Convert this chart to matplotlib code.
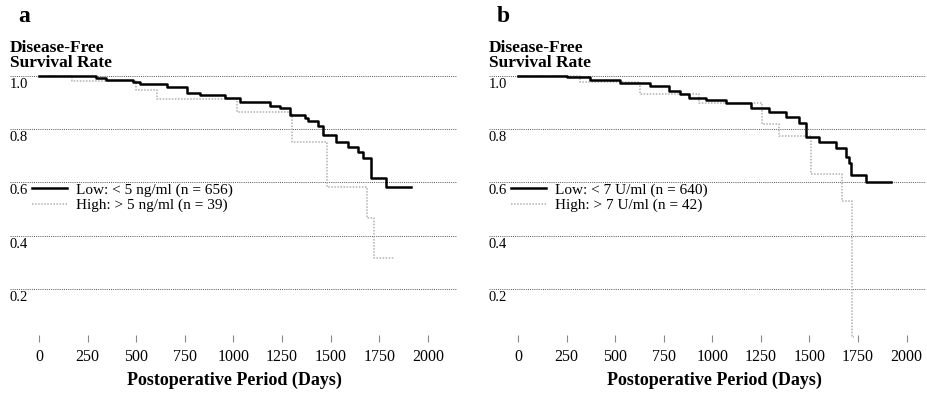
"""
Disease-free survival curves (Kaplan-Meier style) for two marker cut-offs.
"""
import matplotlib
matplotlib.use("Agg")
import matplotlib.pyplot as plt

plt.rcParams['font.family'] = ['Liberation Serif', 'DejaVu Serif']

# panel a: CEA-like marker, ng/ml
a_low_days = [0, 295, 346, 481, 517, 656, 760, 827, 956, 1034, 1189, 1240, 1292,
              1370, 1385, 1437, 1462, 1525, 1587, 1643, 1664, 1705, 1783, 1912]
a_low_surv = [1.0, 0.993, 0.982, 0.977, 0.969, 0.958, 0.936, 0.927, 0.915, 0.900, 0.886, 0.878, 0.852,
              0.841, 0.830, 0.810, 0.777, 0.752, 0.733, 0.715, 0.690, 0.615, 0.584, 0.584]
a_high_days = [0, 171, 500, 605, 1018, 1302, 1483, 1685, 1721, 1824]
a_high_surv = [1.0, 0.980, 0.948, 0.911, 0.865, 0.752, 0.584, 0.466, 0.316, 0.316]
a_labels = ['Low: < 5 ng/ml (n = 656)', 'High: > 5 ng/ml (n = 39)']

# panel b: CA19-9-like marker, U/ml
b_low_days = [0, 251, 369, 523, 677, 779, 831, 882, 969, 1072, 1200, 1292, 1379,
              1446, 1482, 1549, 1636, 1687, 1703, 1713, 1790, 1918]
b_low_surv = [1.0, 0.995, 0.983, 0.972, 0.961, 0.943, 0.931, 0.915, 0.909, 0.896, 0.880, 0.865, 0.846,
              0.821, 0.771, 0.752, 0.727, 0.696, 0.671, 0.627, 0.602, 0.602]
b_high_days = [0, 318, 626, 933, 1256, 1344, 1508, 1667, 1718, 1730]
b_high_surv = [1.0, 0.977, 0.930, 0.896, 0.820, 0.775, 0.630, 0.530, 0.020, 0.020]
b_labels = ['Low: < 7 U/ml (n = 640)', 'High: > 7 U/ml (n = 42)']

x_ticks = [0, 250, 500, 750, 1000, 1250, 1500, 1750, 2000]
y_grid = [0.0, 0.2, 0.4, 0.6, 0.8, 1.0]
y_labels = ['0.2', '0.4', '0.6', '0.8', '1.0']

W, H = 928, 394
fig = plt.figure(figsize=(W / 100, H / 100), dpi=100)


def draw_panel(left_px, right_px, xlim, low, high, labels, letter, xlab_px):
    bottom_px, top_px = 342.4, 62.3
    ax = fig.add_axes([left_px / W, 1 - bottom_px / H,
                       (right_px - left_px) / W, (bottom_px - top_px) / H])
    ax.set_xlim(*xlim)
    ax.set_ylim(0, 1.05)
    for s in ax.spines.values():
        s.set_visible(False)

    # dotted reference lines (the bottom one doubles as the axis)
    for y in y_grid:
        ax.axhline(y, color='#555555', lw=0.7, ls=(0, (1, 1.2)), zorder=1)
    for y, lab in zip(y_grid[1:], y_labels):
        ax.annotate(lab, xy=(0, y), xycoords=('axes fraction', 'data'),
                    xytext=(0, -1.5), textcoords='offset points',
                    ha='left', va='top', fontsize=10.5)

    ax.step(high[0], high[1], where='post', color='#b0b0b0', lw=1.1,
            ls=(0, (1, 1)), label=labels[1], zorder=2)
    ax.step(low[0], low[1], where='post', color='black', lw=1.8,
            label=labels[0], zorder=3)
    # legend order: low first
    h, l = ax.get_legend_handles_labels()
    ax.legend(h[::-1], l[::-1], loc='upper left', frameon=False, fontsize=11,
              bbox_to_anchor=((left_px + 22) / W, 1 - 183 / H),
              bbox_transform=fig.transFigure, borderpad=0, borderaxespad=0,
              handlelength=2.3, handletextpad=0.55, labelspacing=0.1)

    ax.set_xticks(x_ticks)
    ax.set_xticklabels([str(t) for t in x_ticks])
    ax.set_yticks([])
    ax.tick_params(axis='x', direction='in', length=5, width=0.8,
                   color='#888888', labelsize=11.5, pad=5)
    ax.set_xlabel('Postoperative Period (Days)', fontsize=13,
                  fontweight='bold')
    ax.xaxis.set_label_coords((xlab_px - left_px) / (right_px - left_px),
                              -(392 - 342.4 - 20) / (bottom_px - top_px))

    fig.text((left_px + 8) / W, 1 - 6 / H, letter, fontsize=17,
             fontweight='bold', ha='left', va='top')
    fig.text(left_px / W, 1 - 40 / H, 'Disease-Free\nSurvival Rate',
             fontsize=12.5, fontweight='bold', ha='left', va='top',
             linespacing=0.9)
    return ax


draw_panel(10, 457, (-150, 2150), (a_low_days, a_low_surv),
           (a_high_days, a_high_surv), a_labels, 'a', 234)
draw_panel(489, 926, (-150, 2100), (b_low_days, b_low_surv),
           (b_high_days, b_high_surv), b_labels, 'b', 714)

fig.savefig('out.png', dpi=100, facecolor='white')
